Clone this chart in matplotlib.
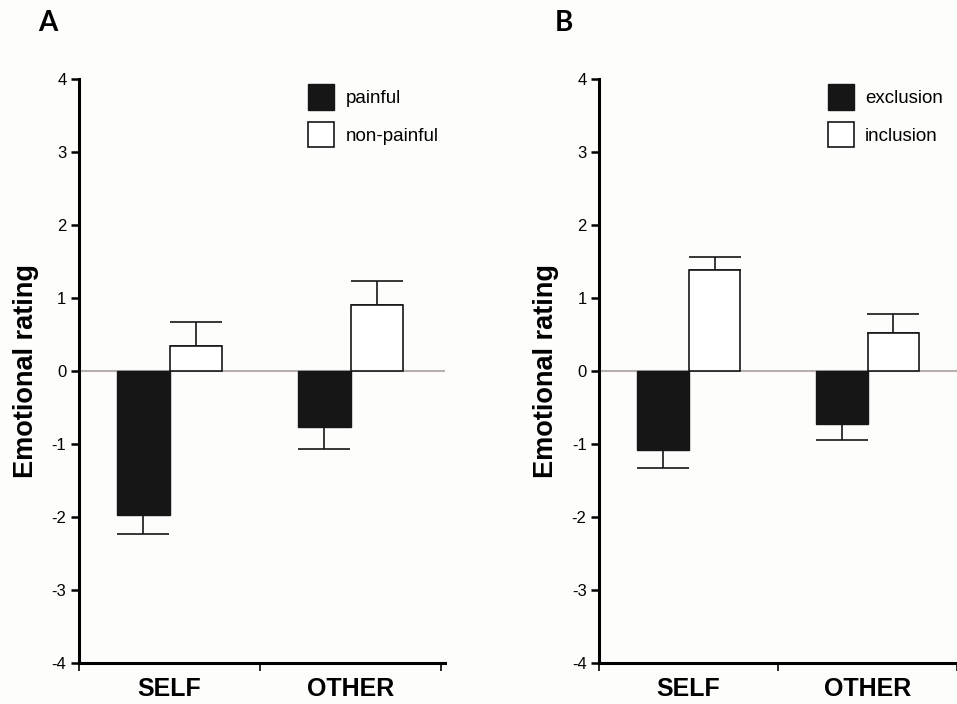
import numpy as np
import matplotlib
matplotlib.use('Agg')
from matplotlib import pyplot as plt

plt.rcParams['font.family'] = ['Liberation Sans', 'DejaVu Sans']

categories = ['SELF', 'OTHER']

# panel A
a_labels = ['painful', 'non-painful']
a_dark = [-1.97, -0.77]
a_dark_err = [0.26, 0.30]
a_light = [0.34, 0.90]
a_light_err = [0.33, 0.33]

# panel B
b_labels = ['exclusion', 'inclusion']
b_dark = [-1.08, -0.73]
b_dark_err = [0.25, 0.22]
b_light = [1.38, 0.515]
b_light_err = [0.18, 0.26]

yticks = [-4, -3, -2, -1, 0, 1, 2, 3, 4]

fig = plt.figure(figsize=(9.57, 7.04), dpi=100)
fig.patch.set_facecolor('#fdfdfb')

w = 0.29


def panel(ax, dark, dark_err, light, light_err, labels, xlim, leg_anchor):
    x = np.arange(len(categories))
    ax.set_facecolor('#fdfdfb')
    ax.axhline(0, color='#b8b0b0', lw=1.5, zorder=1)
    ax.bar(x - w / 2, dark, w, color='#161616', edgecolor='#161616', lw=1.0,
           label=labels[0], zorder=2)
    ax.bar(x + w / 2, light, w, color='white', edgecolor='#161616', lw=1.2,
           label=labels[1], zorder=2)
    # one sided error bars, away from zero
    ax.errorbar(x - w / 2, dark, yerr=[dark_err, [0] * len(dark)], fmt='none',
                ecolor='#161616', elinewidth=1.2, capsize=19, capthick=1.2, zorder=1.5)
    ax.errorbar(x + w / 2, light, yerr=[[0] * len(light), light_err], fmt='none',
                ecolor='#161616', elinewidth=1.2, capsize=19, capthick=1.2, zorder=1.5)
    ax.set_ylim(-4, 4)
    ax.set_xlim(*xlim)
    ax.set_yticks(yticks)
    ax.set_yticklabels([str(t) for t in yticks], fontsize=12)
    ax.set_xticks([-0.5, 0.5, 1.5])
    ax.set_xticklabels([])
    ax.set_xticks(x, minor=True)
    ax.set_xticklabels(categories, minor=True, fontsize=18, fontweight='bold')
    ax.tick_params(axis='x', which='minor', length=0, pad=10)
    ax.tick_params(axis='x', which='major', length=6, width=1.2)
    ax.tick_params(axis='y', length=6, width=1.8, pad=3)
    for s in ['top', 'right']:
        ax.spines[s].set_visible(False)
    for s in ['left', 'bottom']:
        ax.spines[s].set_linewidth(2.2)
    ax.set_ylabel('Emotional rating', fontsize=19.5, fontweight='bold', labelpad=9)
    ax.legend(loc='upper right', frameon=False, fontsize=13.5, handlelength=1.4,
              handleheight=1.7, handletextpad=0.6, labelspacing=0.67,
              bbox_to_anchor=leg_anchor)


ax1 = fig.add_axes([0.0825, 0.0582, 0.3825, 0.8295])
panel(ax1, a_dark, a_dark_err, a_light, a_light_err, a_labels, (-0.5, 1.52),
      (1.029, 1.02))
ax2 = fig.add_axes([0.626, 0.0582, 0.374, 0.8295])
panel(ax2, b_dark, b_dark_err, b_light, b_light_err, b_labels, (-0.495, 1.473),
      (1.008, 1.02))

fig.text(0.040, 0.967, 'A', fontsize=20, fontweight='bold', family=['Lato', 'DejaVu Sans'],
         va='center', ha='left')
fig.text(0.580, 0.967, 'B', fontsize=20, fontweight='bold', family=['Lato', 'DejaVu Sans'],
         va='center', ha='left')

fig.savefig('out.png', dpi=100, facecolor=fig.get_facecolor())
